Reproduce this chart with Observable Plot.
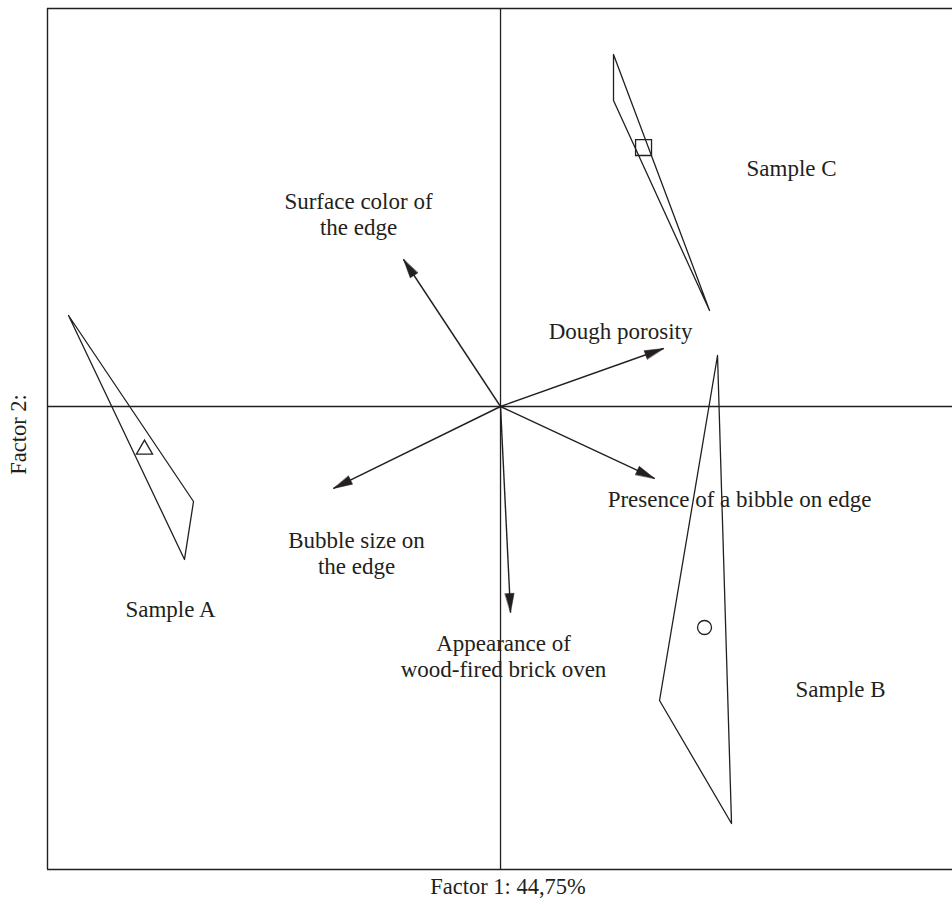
<!DOCTYPE html>
<html>
<head>
<meta charset="utf-8">
<script src="https://cdn.jsdelivr.net/npm/d3@7"></script>
<script src="https://cdn.jsdelivr.net/npm/@observablehq/plot@0.6"></script>
<style>
  html, body { margin: 0; padding: 0; background: #fff; overflow: hidden; }
  #chart svg { overflow: hidden; }
</style>
</head>
<body>
<div id="chart"></div>
<script>
// ---- data (factor coordinates) ----
const samples = ["Sample A", "Sample B", "Sample C"];
const sampleHullX = [
  [-0.9536, -0.6777, -0.6976],
  [0.4790, 0.3510, 0.5099],
  [0.2494, 0.2494, 0.4614]
];
const sampleHullY = [
  [0.2009, -0.2097, -0.3377],
  [0.1126, -0.6490, -0.9205],
  [0.7770, 0.6755, 0.2119]
];
const sampleCentroidX = [-0.7859, 0.4503, 0.3157];
const sampleCentroidY = [-0.0949, -0.4879, 0.5717];
const sampleSymbols = ["triangle", "circle", "square"];
const sampleLabelX = [-0.7285, 0.7506, 0.6424];
const sampleLabelY = [-0.4481, -0.6247, 0.5254];

const attributes = [
  "Surface color of\nthe edge",
  "Dough porosity",
  "Presence of a bibble on edge",
  "Appearance of\nwood-fired brick oven",
  "Bubble size on\nthe edge"
];
const attrX = [-0.2141, 0.3598, 0.3400, 0.0221, -0.3687];
const attrY = [0.3245, 0.1280, -0.1589, -0.4547, -0.1810];
const attrLabelX = [-0.3135, 0.2649, 0.5276, 0.0066, -0.3179];
const attrLabelY = [0.4260, 0.1678, -0.2030, -0.5497, -0.3223];

const xLabel = "Factor 1: 44,75%";
const yLabel = "Factor 2:";

// ---- tables ----
const hull = samples.flatMap((s, i) => sampleHullX[i].map((x, j) => ({sample: s, x, y: sampleHullY[i][j]})));
const centroids = samples.map((s, i) => ({sample: s, x: sampleCentroidX[i], y: sampleCentroidY[i], symbol: sampleSymbols[i], lx: sampleLabelX[i], ly: sampleLabelY[i]}));
const arrows = attributes.map((a, i) => ({label: a, x: attrX[i], y: attrY[i], lx: attrLabelX[i], ly: attrLabelY[i]}));

const ink = "#231f20";
const font = "'Liberation Serif', 'DejaVu Serif', serif";
const xDom = [-1, 1.033], yDom = [-1.0221, 0.8786];

const head = {
  draw(context, l, r) {
    context.moveTo(0, -l);
    context.lineTo(-r, 0);
    context.lineTo(r, 0);
    context.closePath();
  }
};

const chart = Plot.plot({
  width: 952,
  height: 905,
  marginLeft: 47,
  marginTop: 8,
  marginBottom: 36,
  marginRight: 0,
  style: {fontFamily: font, color: ink, background: "#fff"},
  x: {domain: xDom, range: [47, 968], axis: null},
  y: {domain: yDom, range: [869, 8], axis: null},
  marks: [
    Plot.ruleY([yDom[0], yDom[1]], {x1: xDom[0], x2: xDom[1], stroke: ink, strokeWidth: 1.4}),
    Plot.ruleX([xDom[0]], {y1: yDom[0], y2: yDom[1], stroke: ink, strokeWidth: 1.4}),
    Plot.ruleY([0], {x1: xDom[0], x2: xDom[1], stroke: ink, strokeWidth: 1.3}),
    Plot.ruleX([0], {y1: yDom[0], y2: yDom[1], stroke: ink, strokeWidth: 1.3}),
    Plot.line(hull, {x: "x", y: "y", z: "sample", curve: "linear-closed", stroke: ink, strokeWidth: 1.3}),
    Plot.dot(centroids.filter(d => d.symbol === "triangle"), {x: "x", y: "y", symbol: "triangle", r: 6, stroke: ink, strokeWidth: 1.3, fill: "none"}),
    Plot.dot(centroids.filter(d => d.symbol === "circle"), {x: "x", y: "y", symbol: "circle", r: 7, stroke: ink, strokeWidth: 1.3, fill: "none"}),
    Plot.dot(centroids.filter(d => d.symbol === "square"), {x: "x", y: "y", symbol: "square", r: 9, stroke: ink, strokeWidth: 1.3, fill: "none"}),
    Plot.link(arrows, {x1: () => 0, y1: () => 0, x2: "x", y2: "y", stroke: ink, strokeWidth: 1.4}),
    Plot.vector(arrows, {x: "x", y: "y", anchor: "end", length: 19, r: 4.5, shape: head,
      rotate: d => Math.atan2(d.x, d.y) * 180 / Math.PI, fill: ink, stroke: ink, strokeWidth: 0.5}),
    Plot.text(arrows, {x: "lx", y: "ly", text: "label", fontSize: 23, lineHeight: 1.12, lineAnchor: "middle", textAnchor: "middle", fill: ink}),
    Plot.text(centroids, {x: "lx", y: "ly", text: "sample", fontSize: 23, lineAnchor: "middle", textAnchor: "middle", fill: ink}),
    Plot.text([xLabel], {x: () => 0.0166, y: () => -1.0596, text: d => d, fontSize: 22.5, lineAnchor: "middle", textAnchor: "middle", fill: ink}),
    Plot.text([yLabel], {x: () => -1.064, y: () => -0.0618, text: d => d, rotate: -90, fontSize: 22.5, lineAnchor: "middle", textAnchor: "middle", fill: ink})
  ]
});
document.getElementById("chart").appendChild(chart);
</script>
</body>
</html>
